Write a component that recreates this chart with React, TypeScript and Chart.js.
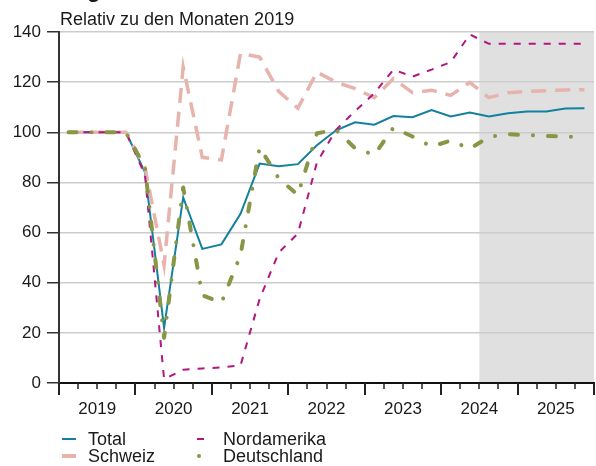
import React, { useEffect, useRef } from 'react';
import { Chart, registerables } from 'chart.js';

Chart.register(...registerables);

// ---- data (quarterly, 2019 Q1 .. 2025 Q4) ----
const years = ['2019', '2020', '2021', '2022', '2023', '2024', '2025'];
const quarterNames = ['Q1', 'Q2', 'Q3', 'Q4'];
const quarters = years.flatMap((y) => quarterNames.map((q) => `${y} ${q}`));

const total = [100, 100, 100, 100, 84, 22, 74, 53.5, 55.3, 67.5, 87.5, 86.5, 87.3, 94.8, 100.8, 104, 103, 106.5, 106, 108.9, 106.3, 107.9, 106.3, 107.6, 108.3, 108.3, 109.5, 109.6];
const schweiz = [100, 100, 100, 100, 86, 47, 126, 90, 89, 131.5, 130, 116.3, 109.6, 124, 120, 117.4, 113.8, 121.4, 115.8, 116.8, 114.7, 119.9, 113.8, 115.8, 116.3, 116.6, 116.9, 117];
const nordamerika = [100, 100, 100, 100, 83, 1.5, 5.3, 5.8, 6.2, 7, 33.5, 52, 59.6, 88, 101, 108.5, 115.5, 125, 122.2, 125, 128, 139, 135.3, 135.3, 135.3, 135.3, 135.3, 135.3];
const deutschland = [100, 100, 100, 100, 86, 18, 78, 35, 32, 51, 94, 81.6, 75, 99.6, 101, 93.6, 91, 101.8, 98.3, 94.3, 96.7, 93.4, 98.2, 99.2, 98.9, 98.5, 98.3, 98];

const yTicks = [0, 20, 40, 60, 80, 100, 120, 140];
const forecastStartQuarter = 22; // 2024 Q3 starts the shaded forecast period

const title = 'Logiernächte';
const subtitle = 'Relativ zu den Monaten 2019';

const COLORS = {
  total: '#13809e',
  schweiz: '#e7b3ad',
  nordamerika: '#b2167f',
  deutschland: '#879746',
};

const FONT = '"Liberation Sans", Arial, Helvetica, sans-serif';

const toPoints = (arr: number[]) => arr.map((v, i) => ({ x: i + 0.5, y: v }));

const bandPlugin = {
  id: 'forecastBand',
  beforeDraw(chart: any) {
    const { ctx, chartArea, scales } = chart;
    const xs = scales.x;
    const x0 = xs.getPixelForValue(forecastStartQuarter);
    const x1 = xs.getPixelForValue(quarters.length);
    ctx.save();
    ctx.fillStyle = '#e0e0e0';
    ctx.fillRect(x0, chartArea.top, x1 - x0, chartArea.bottom - chartArea.top);
    ctx.restore();
  },
};

const xTickPlugin = {
  id: 'quarterTicks',
  afterDraw(chart: any) {
    const { ctx, chartArea, scales } = chart;
    const xs = scales.x;
    ctx.save();
    ctx.strokeStyle = '#222';
    for (let q = 0; q <= quarters.length; q++) {
      const px = Math.round(xs.getPixelForValue(q));
      const major = q % 4 === 0;
      ctx.lineWidth = major ? 2 : 1.5;
      ctx.beginPath();
      ctx.moveTo(px, chartArea.bottom);
      ctx.lineTo(px, chartArea.bottom + (major ? 12 : 6));
      ctx.stroke();
    }
    ctx.restore();
  },
};

function ChartCanvas() {
  const ref = useRef<HTMLCanvasElement | null>(null);
  useEffect(() => {
    if (!ref.current) return;
    const chart = new Chart(ref.current, {
      type: 'line',
      data: {
        datasets: [
          {
            label: 'Total',
            data: toPoints(total),
            borderColor: COLORS.total,
            borderWidth: 2,
            pointRadius: 0,
            tension: 0,
            order: 4,
          },
          {
            label: 'Schweiz',
            data: toPoints(schweiz),
            borderColor: COLORS.schweiz,
            borderWidth: 3.5,
            borderDash: [15, 9],
            pointRadius: 0,
            tension: 0,
            order: 3,
          },
          {
            label: 'Nordamerika',
            data: toPoints(nordamerika),
            borderColor: COLORS.nordamerika,
            borderWidth: 2,
            borderDash: [7, 8],
            pointRadius: 0,
            tension: 0,
            order: 2,
          },
          {
            label: 'Deutschland',
            data: toPoints(deutschland),
            borderColor: COLORS.deutschland,
            borderWidth: 4,
            borderDash: [8, 15, 0.01, 15],
            borderCapStyle: 'round',
            borderJoinStyle: 'round',
            pointRadius: 0,
            tension: 0,
            order: 1,
          },
        ] as any,
      },
      options: {
        responsive: false,
        animation: false,
        devicePixelRatio: 1,
        layout: { padding: { top: 32, right: 2, left: 0, bottom: 0 } },
        plugins: {
          legend: { display: false },
          tooltip: { enabled: false },
          title: { display: false },
        },
        scales: {
          x: {
            type: 'linear',
            min: 0,
            max: quarters.length,
            grid: { display: false, drawTicks: false, tickLength: 0 },
            border: { display: true, color: '#111', width: 2 },
            ticks: {
              stepSize: 1,
              autoSkip: false,
              maxRotation: 0,
              minRotation: 0,
              padding: 16,
              color: '#1a1a1a',
              font: { family: FONT, size: 17 },
              callback: (v: any) => {
                const n = Math.round(Number(v));
                return n % 4 === 2 ? years[(n - 2) / 4] : '';
              },
            },
            afterFit: (s: any) => {
              s.height = 83;
              s.paddingLeft = 0;
              s.paddingRight = 0;
            },
          },
          y: {
            type: 'linear',
            min: 0,
            max: 140,
            afterBuildTicks: (s: any) => {
              s.ticks = yTicks.map((v) => ({ value: v }));
            },
            grid: {
              color: (c: any) => (c.tick && c.tick.value === 0 ? 'rgba(0,0,0,0)' : '#cccccc'),
              lineWidth: 1.5,
              drawTicks: true,
              tickLength: 12,
              tickColor: '#333',
              tickWidth: 1.5,
            },
            border: { display: true, color: '#333', width: 2 },
            ticks: {
              padding: 6,
              color: '#1a1a1a',
              font: { family: FONT, size: 17 },
            },
            afterFit: (s: any) => {
              s.width = 59;
            },
          },
        },
      },
      plugins: [bandPlugin, xTickPlugin],
    });
    return () => chart.destroy();
  }, []);
  return <canvas ref={ref} width={596} height={466} style={{ position: 'absolute', left: 0, top: 0 }} />;
}

const textStyle: React.CSSProperties = {
  position: 'absolute',
  fontFamily: FONT,
  color: '#1a1a1a',
  whiteSpace: 'nowrap',
  margin: 0,
};

function LegendKey({ x, y, kind, color }: { x: number; y: number; kind: string; color: string }) {
  if (kind === 'solid') {
    return <div style={{ position: 'absolute', left: x, top: y - 1, width: 14, height: 2, background: color }} />;
  }
  if (kind === 'thick') {
    return <div style={{ position: 'absolute', left: x, top: y - 2, width: 14, height: 4, background: color }} />;
  }
  if (kind === 'dash') {
    return <div style={{ position: 'absolute', left: x, top: y - 1, width: 7, height: 2, background: color }} />;
  }
  return <div style={{ position: 'absolute', left: x, top: y - 2, width: 4, height: 4, borderRadius: 2, background: color }} />;
}

export default function App() {
  return (
    <div style={{ position: 'absolute', left: 0, top: 0, width: 596, height: 466, overflow: 'hidden', background: '#fff' }}>
      <ChartCanvas />
      <div style={{ ...textStyle, left: 60, top: -21, fontSize: 22, lineHeight: '22px', fontWeight: 700 }}>{title}</div>
      <div style={{ ...textStyle, left: 60, top: 10, fontSize: 18, lineHeight: '18px' }}>{subtitle}</div>
      <LegendKey x={62} y={439} kind="solid" color={COLORS.total} />
      <LegendKey x={62} y={456} kind="thick" color={COLORS.schweiz} />
      <LegendKey x={197} y={439} kind="dash" color={COLORS.nordamerika} />
      <LegendKey x={197} y={456} kind="dot" color={COLORS.deutschland} />
      <div style={{ ...textStyle, left: 88, top: 430, fontSize: 18, lineHeight: '18px' }}>Total</div>
      <div style={{ ...textStyle, left: 88, top: 447, fontSize: 18, lineHeight: '18px' }}>Schweiz</div>
      <div style={{ ...textStyle, left: 223, top: 430, fontSize: 18, lineHeight: '18px' }}>Nordamerika</div>
      <div style={{ ...textStyle, left: 223, top: 447, fontSize: 18, lineHeight: '18px' }}>Deutschland</div>
    </div>
  );
}
